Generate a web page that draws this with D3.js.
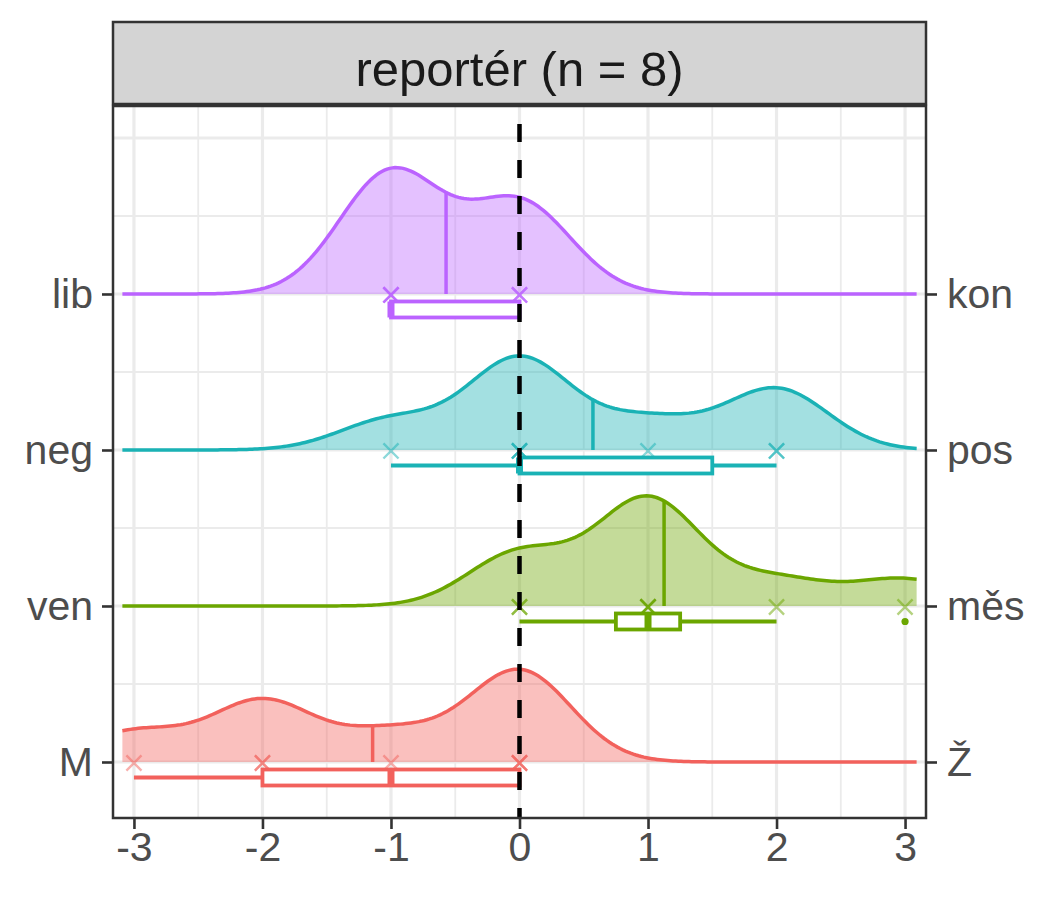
<!DOCTYPE html>
<html>
<head>
<meta charset="utf-8">
<script src="https://cdn.jsdelivr.net/npm/d3@7"></script>
<style>
body { margin: 0; background: #fff; }
text { font-family: "Liberation Sans", Arial, Helvetica, sans-serif; }
</style>
</head>
<body>
<div id="chart"></div>
<script>
// Ridge rows, bottom to top
const groups = ["M", "ven", "neg", "lib"];
const rightLabels = ["Ž", "měs", "pos", "kon"];
const colors = ["#F2615C", "#6BA600", "#1AB2B5", "#BB63FF"];

// Answers per row (scale -3..3)
const valsM = [-3, -2, -2, -1, 0, 0, 0];
const valsVen = [0, 0, 1, 1, 1, 1, 2, 3];
const valsNeg = [-1, 0, 0, 0, 1, 2, 2];
const valsLib = [-1, -1, -1, -1, 0, 0, 0];

const xTicks = [-3, -2, -1, 0, 1, 2, 3];
const stripTitle = "reportér (n = 8)";

const svgWidth = 1050;
const svgHeight = 900;

// panel box
const panel = { left: 113, right: 926, top: 106, bottom: 818 };

const svg = d3.select("#chart")
    .append("svg")
    .attr("width", svgWidth)
    .attr("height", svgHeight);

const x = d3.scaleLinear().domain([-3.163, 3.163]).range([panel.left, panel.right]);
const y = d3.scaleLinear().domain([0.641, 5.205]).range([panel.bottom, panel.top]);

const allVals = [valsM, valsVen, valsNeg, valsLib];

// gaussian density, joint bandwidth picked to match the curves
const bw = 0.4;
function kde(v, t) {
    const c = 1 / (v.length * bw * Math.sqrt(2 * Math.PI));
    return c * d3.sum(v, d => Math.exp(-0.5 * ((t - d) / bw) ** 2));
}

const grid = d3.range(0, 301).map(i => -3.09 + i * 6.18 / 300);
const dens = allVals.map(v => grid.map(t => kde(v, t)));
const maxD = d3.max(dens, d => d3.max(d));
const ridgeScale = 0.81;
const h = d => d / maxD * ridgeScale;

// background grid
const gridG = svg.append("g");
gridG.append("rect")
    .attr("x", panel.left).attr("y", panel.top)
    .attr("width", panel.right - panel.left).attr("height", panel.bottom - panel.top)
    .attr("fill", "#fff");

const minorX = xTicks.slice(1).map(d => d - 0.5);
const majorY = [1, 2, 3, 4, 5];
const minorY = [1.5, 2.5, 3.5, 4.5];

gridG.selectAll(".vmin").data(minorX).enter().append("line")
    .attr("x1", d => x(d)).attr("x2", d => x(d))
    .attr("y1", panel.top).attr("y2", panel.bottom)
    .attr("stroke", "#EBEBEB").attr("stroke-width", 1.8);
gridG.selectAll(".hmin").data(minorY).enter().append("line")
    .attr("y1", d => y(d)).attr("y2", d => y(d))
    .attr("x1", panel.left).attr("x2", panel.right)
    .attr("stroke", "#EBEBEB").attr("stroke-width", 1.8);
gridG.selectAll(".vmaj").data(xTicks).enter().append("line")
    .attr("x1", d => x(d)).attr("x2", d => x(d))
    .attr("y1", panel.top).attr("y2", panel.bottom)
    .attr("stroke", "#EBEBEB").attr("stroke-width", 3.2);
gridG.selectAll(".hmaj").data(majorY).enter().append("line")
    .attr("y1", d => y(d)).attr("y2", d => y(d))
    .attr("x1", panel.left).attr("x2", panel.right)
    .attr("stroke", "#EBEBEB").attr("stroke-width", 3.2);

// ridges
const plot = svg.append("g");
groups.forEach((g, i) => {
    const pos = i + 1;
    const pts = grid.map((t, k) => [t, h(dens[i][k])]);
    const area = d3.area()
        .x(d => x(d[0]))
        .y0(y(pos))
        .y1(d => y(pos + d[1]));
    const line = d3.line()
        .x(d => x(d[0]))
        .y(d => y(pos + d[1]));

    plot.append("path")
        .attr("d", area(pts))
        .attr("fill", colors[i])
        .attr("fill-opacity", 0.4);
    plot.append("path")
        .attr("d", line(pts))
        .attr("fill", "none")
        .attr("stroke", colors[i])
        .attr("stroke-width", 3.5);

    // mean line
    const m = d3.mean(allVals[i]);
    plot.append("line")
        .attr("x1", x(m)).attr("x2", x(m))
        .attr("y1", y(pos)).attr("y2", y(pos + h(kde(allVals[i], m))))
        .attr("stroke", colors[i])
        .attr("stroke-width", 3.5);

    // raw answers
    plot.selectAll(null).data(allVals[i]).enter().append("path")
        .attr("d", d3.symbol(d3.symbolX, 150))
        .attr("transform", d => `translate(${x(d)},${y(pos) + 1})`)
        .attr("fill", "none")
        .attr("stroke", colors[i])
        .attr("stroke-opacity", 0.5)
        .attr("stroke-width", 2.4);
});

// boxplots
groups.forEach((g, i) => {
    const v = allVals[i].slice().sort(d3.ascending);
    const q1 = d3.quantile(v, 0.25);
    const med = d3.quantile(v, 0.5);
    const q3 = d3.quantile(v, 0.75);
    const iqr = q3 - q1;
    const inside = v.filter(d => d >= q1 - 1.5 * iqr && d <= q3 + 1.5 * iqr);
    const outs = v.filter(d => d < q1 - 1.5 * iqr || d > q3 + 1.5 * iqr);
    const yc = y(i + 1) + 15.5;
    const bh = 8;
    const bg = plot.append("g").attr("stroke", colors[i]);

    bg.append("line")
        .attr("x1", x(d3.min(inside))).attr("x2", x(q1))
        .attr("y1", yc).attr("y2", yc).attr("stroke-width", 3.8);
    bg.append("line")
        .attr("x1", x(q3)).attr("x2", x(d3.max(inside)))
        .attr("y1", yc).attr("y2", yc).attr("stroke-width", 3.8);
    bg.append("rect")
        .attr("x", x(q1)).attr("y", yc - bh)
        .attr("width", x(q3) - x(q1)).attr("height", 2 * bh)
        .attr("fill", "#fff").attr("stroke-width", 3.8);
    bg.append("line")
        .attr("x1", x(med)).attr("x2", x(med))
        .attr("y1", yc - bh).attr("y2", yc + bh)
        .attr("stroke-width", 7);
    bg.selectAll("circle").data(outs).enter().append("circle")
        .attr("cx", d => x(d)).attr("cy", yc).attr("r", 3.6)
        .attr("fill", colors[i]).attr("stroke", "none");
});

// dashed reference at zero
svg.append("line")
    .attr("x1", x(0)).attr("x2", x(0))
    .attr("y1", panel.top).attr("y2", panel.bottom)
    .attr("stroke", "#000")
    .attr("stroke-width", 4.5)
    .attr("stroke-dasharray", "18,18")
    .attr("stroke-dashoffset", 18);

// panel border
svg.append("rect")
    .attr("x", panel.left).attr("y", panel.top)
    .attr("width", panel.right - panel.left).attr("height", panel.bottom - panel.top)
    .attr("fill", "none").attr("stroke", "#333333").attr("stroke-width", 2.5);

// strip
svg.append("rect")
    .attr("x", panel.left).attr("y", 22)
    .attr("width", panel.right - panel.left).attr("height", 82)
    .attr("fill", "#D4D4D4").attr("stroke", "#333333").attr("stroke-width", 2.5);
svg.append("text")
    .attr("x", (panel.left + panel.right) / 2)
    .attr("y", 86)
    .attr("text-anchor", "middle")
    .attr("font-size", 49)
    .attr("fill", "#1A1A1A")
    .text(stripTitle);

// axes
function styleAxis(sel) {
    sel.select(".domain").remove();
    sel.selectAll(".tick line").attr("stroke", "#333333").attr("stroke-width", 2.6);
    sel.selectAll(".tick text")
        .attr("fill", "#4D4D4D")
        .attr("font-size", 41)
        .attr("font-family", "Liberation Sans, Arial, sans-serif");
}

svg.append("g")
    .attr("transform", `translate(0,${panel.bottom})`)
    .call(d3.axisBottom(x).tickValues(xTicks).tickFormat(d => String(d)).tickSize(11).tickPadding(3))
    .call(styleAxis);

svg.append("g")
    .attr("transform", `translate(${panel.left},0)`)
    .call(d3.axisLeft(y).tickValues([1, 2, 3, 4]).tickFormat(d => groups[d - 1]).tickSize(11).tickPadding(9))
    .call(styleAxis);

svg.append("g")
    .attr("transform", `translate(${panel.right},0)`)
    .call(d3.axisRight(y).tickValues([1, 2, 3, 4]).tickFormat(d => rightLabels[d - 1]).tickSize(11).tickPadding(10))
    .call(styleAxis);
</script>
</body>
</html>
